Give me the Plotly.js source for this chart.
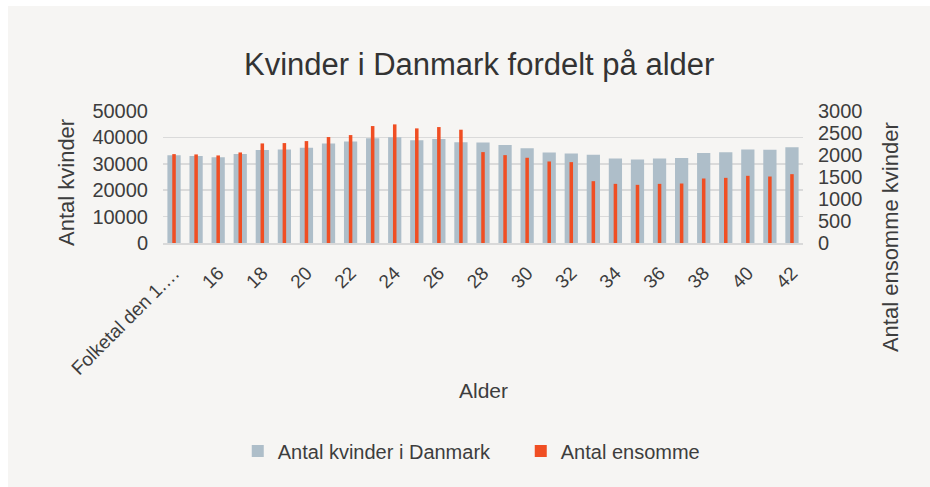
<!DOCTYPE html>
<html>
<head>
<meta charset="utf-8">
<script src="https://cdn.plot.ly/plotly-3.0.1.min.js"></script>
<style>
  html, body { margin: 0; padding: 0; background: #ffffff; }
  #chart { position: absolute; left: 8px; top: 6px; width: 922px; height: 481px; }
</style>
</head>
<body>
<div id="chart"></div>
<script>
// Categories (age groups)
const categories = ["Folketal den 1.\u2026", "15", "16", "17", "18", "19", "20", "21", "22", "23", "24", "25", "26", "27", "28", "29", "30", "31", "32", "33", "34", "35", "36", "37", "38", "39", "40", "41", "42"];

// Antal kvinder i Danmark (left axis)
const kvinder = [33200, 33000, 32500, 33700, 35200, 35400, 36100, 37700, 38400, 39700, 40100, 38900, 39400, 38200, 38100, 37100, 35900, 34300, 33900, 33400, 32000, 31600, 32000, 32200, 34100, 34400, 35400, 35300, 36300];

// Antal ensomme (right axis)
const ensomme = [2020, 2013, 1990, 2058, 2263, 2271, 2316, 2408, 2453, 2658, 2696, 2605, 2635, 2575, 2066, 1997, 1937, 1853, 1838, 1405, 1344, 1322, 1344, 1352, 1466, 1481, 1527, 1511, 1565];

const leftTicks = [0, 10000, 20000, 30000, 40000, 50000];
const rightTicks = [0, 500, 1000, 1500, 2000, 2500, 3000];
const xTickVals = categories.filter((c, i) => i % 2 === 0);

const FONT = "Liberation Sans, Arial, Helvetica, sans-serif";
const TXT = "#3d3d3d";

const traces = [
  {
    type: "bar",
    name: "Antal kvinder i Danmark",
    x: categories,
    y: kvinder,
    width: 0.6,
    marker: { color: "#aebec9" },
    yaxis: "y",
    hoverinfo: "x+y"
  },
  {
    type: "bar",
    name: "Antal ensomme",
    x: categories,
    y: ensomme,
    width: 0.16,
    marker: { color: "#f04e23" },
    yaxis: "y2",
    hoverinfo: "x+y"
  }
];

const layout = {
  width: 922,
  height: 481,
  paper_bgcolor: "#f6f5f3",
  plot_bgcolor: "#f6f5f3",
  margin: { l: 155, r: 127, t: 105, b: 244, pad: 0 },
  font: { family: FONT, color: TXT, size: 20 },
  barmode: "overlay",
  title: {
    text: "Kvinder i Danmark fordelt på alder",
    font: { family: FONT, size: 31, color: "#333333" },
    xref: "paper", x: 0.494, xanchor: "center",
    yref: "container", y: 0.879, yanchor: "middle"
  },
  xaxis: {
    type: "category",
    range: [-0.5, 28.5],
    tickmode: "array",
    tickvals: xTickVals,
    ticktext: xTickVals,
    tickangle: -45,
    tickfont: { family: FONT, size: 19, color: TXT },
    ticks: "",
    showgrid: false,
    showline: true,
    linecolor: "#d9d9d9",
    linewidth: 1.5,
    ticklabelstandoff: 10,
    fixedrange: true
  },
  yaxis: {
    range: [0, 50000],
    tickmode: "array",
    tickvals: leftTicks,
    ticktext: leftTicks.map(String),
    tickfont: { family: FONT, size: 20, color: TXT },
    showgrid: true,
    gridcolor: "#dadada",
    gridwidth: 1.5,
    zeroline: false,
    showline: false,
    ticks: "",
    ticklabelstandoff: 14,
    fixedrange: true
  },
  yaxis2: {
    overlaying: "y",
    side: "right",
    range: [0, 3000],
    tickmode: "array",
    tickvals: rightTicks,
    ticktext: rightTicks.map(String),
    tickfont: { family: FONT, size: 20, color: TXT },
    showgrid: false,
    zeroline: false,
    showline: false,
    ticks: "",
    ticklabelstandoff: 14,
    fixedrange: true
  },
  showlegend: true,
  legend: {
    orientation: "h",
    xref: "paper", x: 0.559, xanchor: "center",
    yref: "paper", y: -1.576, yanchor: "middle",
    font: { family: FONT, size: 20, color: TXT },
    bgcolor: "rgba(0,0,0,0)",
    itemwidth: 30,
    entrywidth: 238,
    traceorder: "normal"
  },
  annotations: [
    {
      text: "Antal kvinder",
      xref: "paper", yref: "paper",
      x: -0.1516, y: 0.462, xanchor: "center", yanchor: "middle",
      textangle: -90, showarrow: false,
      font: { family: FONT, size: 22, color: TXT }
    },
    {
      text: "Antal ensomme kvinder",
      xref: "paper", yref: "paper",
      x: 1.136, y: 0.045, xanchor: "center", yanchor: "middle",
      textangle: -90, showarrow: false,
      font: { family: FONT, size: 22, color: TXT }
    },
    {
      text: "Alder",
      xref: "paper", yref: "paper",
      x: 0.5, y: -1.114, xanchor: "center", yanchor: "middle",
      showarrow: false,
      font: { family: FONT, size: 21, color: TXT }
    }
  ]
};

Plotly.newPlot("chart", traces, layout, { displayModeBar: false, staticPlot: true });
</script>
</body>
</html>
